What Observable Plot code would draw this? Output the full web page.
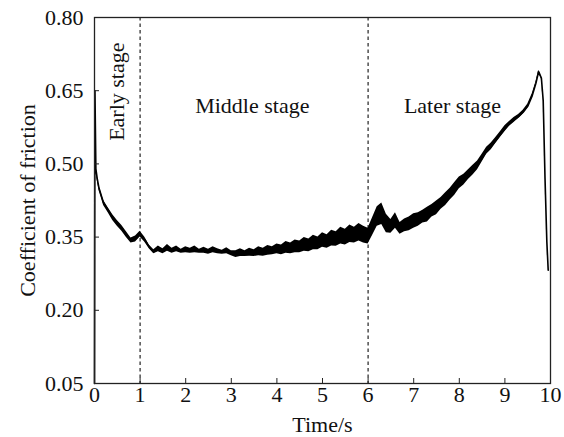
<!DOCTYPE html>
<html><head><meta charset="utf-8">
<script src="https://cdn.jsdelivr.net/npm/d3@7"></script>
<script src="https://cdn.jsdelivr.net/npm/@observablehq/plot@0.6"></script>
<style>html,body{margin:0;padding:0;background:#fff;}</style>
</head><body><div id="chart"></div>
<script>
// Time (s)
const time = [0,0.01,0.03,0.06,0.1,0.15,0.2,0.3,0.4,0.5,0.6,0.7,0.8,0.9,1.0,
  1.1,1.2,1.3,1.4,1.5,1.6,1.7,1.8,1.9,2.0,
  2.1,2.2,2.3,2.4,2.5,2.6,2.7,2.8,2.9,3.0,
  3.1,3.2,3.3,3.4,3.5,3.6,3.7,3.8,3.9,4.0,
  4.1,4.2,4.3,4.4,4.5,4.6,4.7,4.8,4.9,5.0,
  5.1,5.2,5.3,5.4,5.5,5.6,5.7,5.8,5.9,6.0,
  6.1,6.2,6.3,6.4,6.5,6.6,6.7,6.8,6.9,7.0,
  7.1,7.2,7.3,7.4,7.5,7.6,7.7,7.8,7.9,8.0,
  8.1,8.2,8.3,8.4,8.5,8.6,8.7,8.8,8.9,9.0,
  9.1,9.2,9.3,9.4,9.5,9.6,
  9.68,9.74,9.8,9.84,9.88,9.92,9.95];
// Coefficient of friction (centre of the fluctuation band)
const cof = [0.05,0.65,0.49,0.47,0.45,0.435,0.42,0.405,0.39,0.378,0.368,0.355,0.343,0.346,0.356,
  0.345,0.330,0.320,0.326,0.321,0.328,0.322,0.326,0.321,0.324,
  0.322,0.325,0.321,0.323,0.320,0.324,0.321,0.319,0.322,0.317,
  0.315,0.318,0.316,0.319,0.317,0.321,0.319,0.323,0.322,0.326,
  0.324,0.329,0.327,0.331,0.330,0.335,0.333,0.339,0.337,0.344,
  0.341,0.348,0.346,0.353,0.350,0.357,0.354,0.360,0.355,0.352,
  0.372,0.392,0.398,0.378,0.372,0.384,0.368,0.374,0.377,0.383,
  0.386,0.392,0.396,0.404,0.410,0.419,0.428,0.438,0.449,0.461,
  0.468,0.478,0.487,0.497,0.512,0.527,0.536,0.548,0.560,0.572,
  0.582,0.590,0.597,0.606,0.618,0.640,
  0.665,0.689,0.676,0.630,0.470,0.340,0.282];
// Half-width of the fluctuation band
const spread = [0.003,0.003,0.004,0.004,0.005,0.005,0.005,0.005,0.006,0.006,0.006,0.006,0.005,0.006,0.006,
  0.005,0.004,0.004,0.006,0.005,0.007,0.005,0.006,0.004,0.006,
  0.005,0.007,0.004,0.006,0.005,0.006,0.005,0.004,0.006,0.005,
  0.007,0.008,0.006,0.008,0.007,0.009,0.008,0.010,0.008,0.010,
  0.010,0.012,0.011,0.013,0.012,0.014,0.013,0.015,0.013,0.015,
  0.014,0.016,0.015,0.017,0.016,0.018,0.016,0.018,0.017,0.016,
  0.018,0.020,0.022,0.019,0.014,0.016,0.012,0.013,0.014,0.015,
  0.014,0.013,0.015,0.013,0.014,0.012,0.013,0.012,0.013,0.012,
  0.011,0.010,0.010,0.009,0.008,0.007,0.007,0.006,0.006,0.006,
  0.005,0.005,0.004,0.004,0.004,0.004,
  0.003,0.003,0.002,0.002,0.002,0.002,0.002];
const xTicks = [0,1,2,3,4,5,6,7,8,9,10];
const yTicks = [0.05,0.20,0.35,0.50,0.65,0.80];
const stageBounds = [1,6];
const stageNames = ["Early stage","Middle stage","Later stage"];
const stageTime = [0.49,3.46,7.85];
const stageValue = [0.648,0.619,0.619];

const data = time.map((t,i)=>({t, v:cof[i], lo:cof[i]-spread[i], hi:cof[i]+spread[i]}));
const stages = stageNames.map((s,i)=>({label:s, t:stageTime[i], v:stageValue[i], rot: i===0 ? -90 : 0}));

const font = "'Liberation Serif','Times New Roman',serif";
const chart = Plot.plot({
  width:564, height:437,
  marginLeft:94, marginRight:14, marginTop:17, marginBottom:54,
  x:{domain:[0,10]},
  y:{domain:[0.05,0.8]},
  style:{fontFamily:font, fontSize:"22px", color:"#111", background:"#fff"},
  marks:[
    Plot.ruleX(stageBounds,{stroke:"#333", strokeWidth:1.3, strokeDasharray:"3.5,3"}),
    Plot.areaY(data,{x:"t", y1:"lo", y2:"hi", fill:"#000"}),
    Plot.line(data,{x:"t", y:"v", stroke:"#000", strokeWidth:1.6}),
    Plot.frame({stroke:"#222", strokeWidth:1.3}),
    Plot.axisX({ticks:xTicks, tickSize:-5, tickPadding:8, label:null, fontSize:22, stroke:"#222"}),
    Plot.axisY({ticks:yTicks, tickFormat:".2f", tickSize:-5, tickPadding:16, label:null, fontSize:22, stroke:"#222"}),
    Plot.text(stages,{x:"t", y:"v", text:"label", rotate:"rot", fontSize:22, fill:"#111"}),
    Plot.text(["Time/s"],{frameAnchor:"bottom", lineAnchor:"middle", textAnchor:"middle", dy:41, fontSize:22, fill:"#111"}),
    Plot.text(["Coefficient of friction"],{frameAnchor:"left", lineAnchor:"middle", textAnchor:"middle", dx:-67, rotate:-90, fontSize:22, fill:"#111"})
  ]
});
document.getElementById("chart").appendChild(chart);
</script>
</body></html>
